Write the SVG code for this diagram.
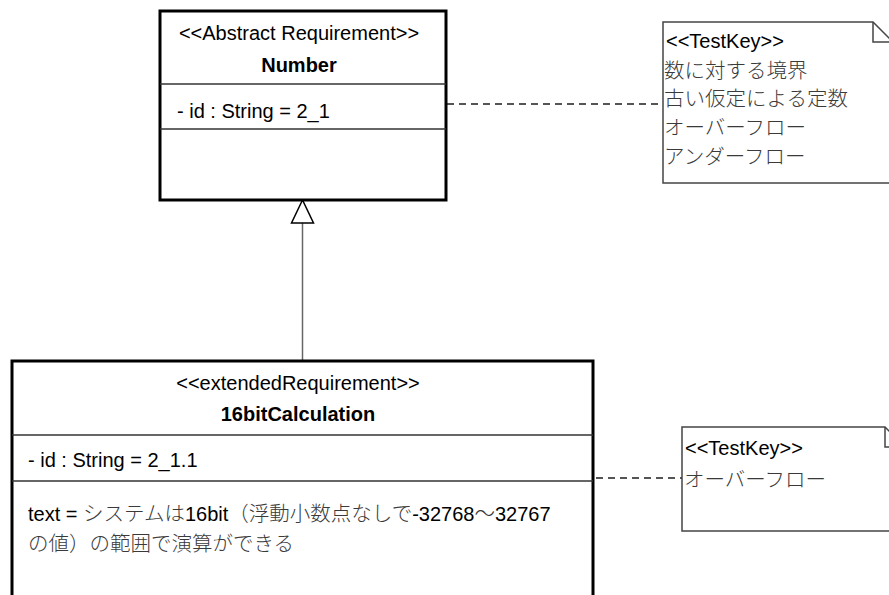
<svg xmlns="http://www.w3.org/2000/svg" width="889" height="595" viewBox="0 0 889 595">
  <style>
    .cls { fill: #ffffff; stroke: #000000; stroke-width: 3; }
    .div { stroke: #333333; stroke-width: 1.5; fill: none; }
    .note { fill: #ffffff; stroke: #444444; stroke-width: 1.5; }
    .fold { fill: none; stroke: #444444; stroke-width: 1.5; }
    .t { font-family: "Liberation Sans", "Noto Sans CJK JP", sans-serif; font-size: 20px; fill: #000000; }
    .b { font-weight: bold; }
    .mid { text-anchor: middle; }
    .jp { font-family: "Noto Sans CJK JP", sans-serif; font-size: 20.5px; fill: #3a3a3a; font-weight: 300; }
    .dash { stroke: #555555; stroke-width: 2; stroke-dasharray: 7 5; fill: none; }
    .gen { stroke: #666666; stroke-width: 1.5; fill: none; }
    .head { fill: #ffffff; stroke: #000000; stroke-width: 1.5; }
  </style>

  <!-- relationships -->
  <g id="connectors">
    <line class="dash" x1="447" y1="104" x2="663" y2="104"/>
    <line class="dash" x1="596" y1="478" x2="682" y2="478"/>
    <line class="gen" x1="302.5" y1="223" x2="302.5" y2="361"/>
    <polygon class="head" points="302.5,200 291.5,223 313.5,223"/>
  </g>

  <!-- abstract requirement class -->
  <g id="node-number">
    <rect class="cls" x="160" y="11" width="286" height="189"/>
    <line class="div" x1="160" y1="84" x2="446" y2="84"/>
    <line class="div" x1="160" y1="129" x2="446" y2="129"/>
    <text class="t mid" x="299" y="40">&lt;&lt;Abstract Requirement&gt;&gt;</text>
    <text class="t b mid" x="299" y="72">Number</text>
    <text class="t" x="177" y="118">- id : String = 2_1</text>
  </g>

  <!-- extended requirement class -->
  <g id="node-16bit">
    <rect class="cls" x="12" y="361" width="581" height="260"/>
    <line class="div" x1="12" y1="435" x2="593" y2="435"/>
    <line class="div" x1="12" y1="481" x2="593" y2="481"/>
    <text class="t mid" x="298" y="390">&lt;&lt;extendedRequirement&gt;&gt;</text>
    <text class="t b mid" x="298" y="421">16bitCalculation</text>
    <text class="t" x="28" y="467">- id : String = 2_1.1</text>
    <text class="t" x="28" y="521">text = <tspan class="jp">システムは</tspan>16bit<tspan class="jp">（浮動小数点なしで</tspan>-32768<tspan class="jp">～</tspan>32767</text>
    <text class="t jp" x="28" y="551">の値）の範囲で演算ができる</text>
  </g>

  <!-- test key note for Number -->
  <g id="note-number">
    <path class="note" d="M663,22 H873 L893,42 V183 H663 Z"/>
    <path class="fold" d="M873,22 V42 H893"/>
    <text class="t" x="666" y="48">&lt;&lt;TestKey&gt;&gt;</text>
    <text class="t jp" x="664" y="78">数に対する境界</text>
    <text class="t jp" x="664" y="106">古い仮定による定数</text>
    <text class="t jp" x="664" y="135">オーバーフロー</text>
    <text class="t jp" x="664" y="164">アンダーフロー</text>
  </g>

  <!-- test key note for 16bitCalculation -->
  <g id="note-16bit">
    <path class="note" d="M682,427 H885 L905,447 V531 H682 Z"/>
    <path class="fold" d="M885,427 V447 H905"/>
    <text class="t" x="685" y="455">&lt;&lt;TestKey&gt;&gt;</text>
    <text class="t jp" x="684" y="487">オーバーフロー</text>
  </g>
</svg>
